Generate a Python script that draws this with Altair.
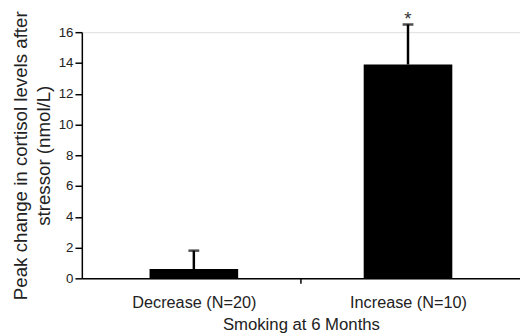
import altair as alt
import pandas as pd

categories = ["Decrease (N=20)", "Increase (N=10)"]
means = [0.6, 13.9]
errors = [1.2, 2.6]
annotations = ["", "*"]
y_ticks = [0, 2, 4, 6, 8, 10, 12, 14, 16]

df = pd.DataFrame({
    "category": categories,
    "pos": [i + 0.5 for i in range(len(categories))],
    "mean": means,
    "upper": [m + e for m, e in zip(means, errors)],
    "note": annotations,
})

label_expr = " : ".join(
    f"datum.value == {i + 0.5} ? '{c}'" for i, c in enumerate(categories)
) + " : ''"
mid_ticks = [i + 0.5 for i in range(len(categories))]
x_values = sorted(mid_ticks + [float(i) for i in range(1, len(categories))])

FONT = "Liberation Sans"

x_axis = alt.Axis(
    values=x_values,
    labelExpr=label_expr,
    tickOpacity={"condition": {"test": "datum.value % 1 == 0", "value": 1}, "value": 0},
    tickSize=5,
    tickWidth=1.5,
    tickColor="black",
    domainColor="black",
    domainWidth=1.5,
    labelFontSize=16.5,
    labelColor="#222",
    labelPadding=12,
    labelOverlap=False,
    labelFlush=False,
    grid=False,
    title="Smoking at 6 Months",
    titleFontSize=17,
    titleFontWeight="normal",
    titleColor="#222",
    titlePadding=5,
)
x_scale = alt.Scale(domain=[0, len(categories)], nice=False, zero=False)

y_axis = alt.Axis(
    values=y_ticks,
    tickSize=7,
    tickWidth=1.5,
    tickColor="black",
    domainColor="black",
    domainWidth=1.5,
    labelFontSize=13.5,
    labelColor="#222",
    labelPadding=2,
    labelOverlap=False,
    labelFlush=False,
    grid=False,
    title=["Peak change in cortisol levels after", "stressor (nmol/L)"],
    titleFontSize=19,
    titleFontWeight="normal",
    titleColor="#222",
    titleAlign="center",
    titleLineHeight=23,
    titlePadding=5,
)
y_scale = alt.Scale(domain=[0, 16], nice=False)


def X():
    return alt.X("pos:Q", scale=x_scale, axis=x_axis)


def Y(field):
    return alt.Y(f"{field}:Q", scale=y_scale, axis=y_axis)


base = alt.Chart(df)

bars = base.mark_bar(size=90, color="black").encode(x=X(), y=Y("mean"))
rules = base.mark_rule(color="black", strokeWidth=2.5).encode(
    x=X(), y=Y("mean"), y2="upper:Q"
)
caps = base.mark_tick(orient="horizontal", size=11, thickness=2.5, color="black").encode(
    x=X(), y=Y("upper")
)
notes = base.mark_text(baseline="alphabetic", dy=1, fontSize=19, font=FONT, color="#333").encode(
    x=X(), y=Y("upper"), text="note:N"
)

chart = (
    alt.layer(bars, rules, caps, notes)
    .properties(
        width=445,
        height=250,
        autosize=alt.AutoSizeParams(type="none"),
        padding={"left": 75, "top": 22, "right": 0, "bottom": 56},
    )
    .configure_view(stroke=None)
    .configure(font=FONT)
)

chart.save("out.html", embed_options={"renderer": "svg", "actions": False})
